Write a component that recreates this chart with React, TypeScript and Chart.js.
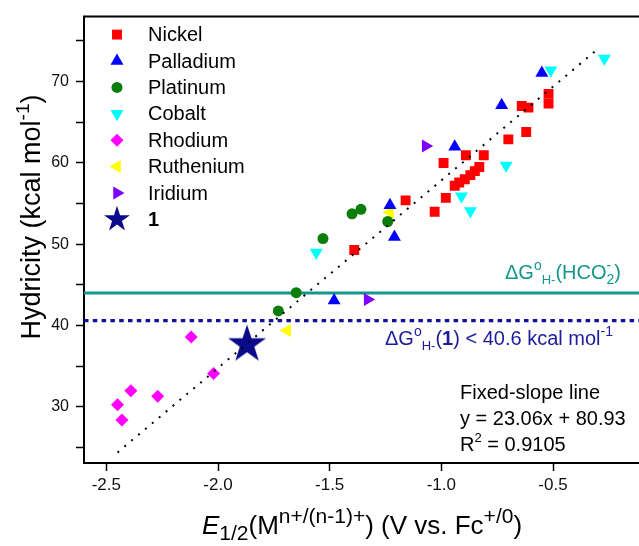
import React, { useEffect, useRef } from 'react';
import { Chart, registerables } from 'chart.js';

Chart.register(...registerables);

const FONT = '"Liberation Sans", Arial, Helvetica, sans-serif';

// ---------- data ----------
const seriesNames = ['Nickel', 'Palladium', 'Platinum', 'Cobalt', 'Rhodium', 'Ruthenium', 'Iridium', '1'];

const nickelX = [-0.52, -0.52, -0.64, -0.61, -0.62, -0.70, -0.89, -0.81, -0.99, -0.83, -0.85, -0.87, -0.895, -0.92, -0.94, -0.98, -1.03, -1.16, -1.39];
const nickelY = [68.5, 67.3, 67.0, 66.8, 63.8, 62.9, 60.95, 60.95, 60.0, 59.5, 59.0, 58.5, 58.0, 57.6, 57.2, 55.7, 54.0, 55.4, 49.3];

const palladiumX = [-0.55, -0.73, -0.94, -1.23, -1.21, -1.48];
const palladiumY = [71.05, 67.1, 62.0, 54.8, 50.9, 43.1];

const platinumX = [-1.40, -1.36, -1.53, -1.24, -1.65, -1.73];
const platinumY = [53.75, 54.3, 50.7, 52.8, 44.05, 41.8];

const cobaltX = [-0.27, -0.51, -0.71, -0.91, -0.87, -1.56];
const cobaltY = [72.85, 71.4, 59.7, 55.9, 54.1, 49.0];

const rhodiumX = [-2.12, -2.02, -2.39, -2.27, -2.45, -2.43];
const rhodiumY = [38.6, 34.1, 32.0, 31.3, 30.25, 28.4];

const rutheniumX = [-1.23, -1.69];
const rutheniumY = [53.95, 39.4];

const iridiumX = [-1.07, -1.33];
const iridiumY = [62.1, 43.2];

const complex1X = [-1.87];
const complex1Y = [37.8];

// fixed-slope fit line end points
const fitX = [-2.45, -0.30];
const fitY = [24.4, 74.0];

// reference hydricity levels
const formateLevel = 44.0;
const complexLevel = 40.6;

const xTickValues = [-2.5, -2.0, -1.5, -1.0, -0.5];
const yTickValues = [25, 30, 35, 40, 45, 50, 55, 60, 65, 70, 75];

const X_MIN = -2.6;
const X_MAX = -0.115;
const Y_MIN = 23.1;
const Y_MAX = 78.0;

// ---------- styles ----------
const TEAL = '#14968e';
const NAVY_LINE = '#10109c';
const NAVY_TEXT = '#1c1c9c';
const STAR_COLOR = '#0a0a8a';

type Mk = { color: string; style: string; r: number; rot: number };
const markers: Mk[] = [
  { color: '#ff0000', style: 'rect', r: 7, rot: 0 },
  { color: '#0000ff', style: 'triangle', r: 7.5, rot: 0 },
  { color: '#0a7d0a', style: 'circle', r: 5.5, rot: 0 },
  { color: '#00ffff', style: 'triangle', r: 7.5, rot: 180 },
  { color: '#ff00ff', style: 'rectRot', r: 6.5, rot: 0 },
  { color: '#ffff00', style: 'triangle', r: 7.5, rot: -90 },
  { color: '#8000ff', style: 'triangle', r: 7.5, rot: 90 },
  { color: STAR_COLOR, style: 'star', r: 20, rot: 0 },
];

function starPath(ctx: CanvasRenderingContext2D, cx: number, cy: number, R: number) {
  const rIn = R * 0.382;
  ctx.beginPath();
  for (let i = 0; i < 10; i++) {
    const rr = i % 2 === 0 ? R : rIn;
    const a = -Math.PI / 2 + (i * Math.PI) / 5;
    const px = cx + rr * Math.cos(a);
    const py = cy + rr * Math.sin(a);
    if (i === 0) ctx.moveTo(px, py);
    else ctx.lineTo(px, py);
  }
  ctx.closePath();
}

function makeStar(R: number, color: string): HTMLCanvasElement {
  const c = document.createElement('canvas');
  const s = Math.ceil(2 * R + 2);
  c.width = s;
  c.height = s;
  const g = c.getContext('2d')!;
  g.fillStyle = color;
  starPath(g, s / 2, s / 2 + R * 0.05, R);
  g.fill();
  return c;
}

function drawMarker(ctx: CanvasRenderingContext2D, m: Mk, x: number, y: number, scale = 1) {
  const r = m.r * scale;
  ctx.save();
  ctx.fillStyle = m.color;
  ctx.beginPath();
  if (m.style === 'rect') {
    const h = r * Math.SQRT1_2;
    ctx.rect(x - h, y - h, 2 * h, 2 * h);
  } else if (m.style === 'rectRot') {
    ctx.moveTo(x, y - r);
    ctx.lineTo(x + r, y);
    ctx.lineTo(x, y + r);
    ctx.lineTo(x - r, y);
    ctx.closePath();
  } else if (m.style === 'circle') {
    ctx.arc(x, y, r, 0, Math.PI * 2);
  } else if (m.style === 'triangle') {
    let a = (m.rot * Math.PI) / 180;
    for (let i = 0; i < 3; i++) {
      const px = x + Math.sin(a) * r;
      const py = y - Math.cos(a) * r;
      if (i === 0) ctx.moveTo(px, py);
      else ctx.lineTo(px, py);
      a += (2 * Math.PI) / 3;
    }
    ctx.closePath();
  } else if (m.style === 'star') {
    starPath(ctx, x, y, r);
  }
  ctx.fill();
  ctx.restore();
}

type Seg = { t: string; size: number; dy?: number; bold?: boolean; italic?: boolean; stack?: boolean };

function fontOf(s: Seg) {
  return `${s.italic ? 'italic ' : ''}${s.bold ? 'bold ' : ''}${s.size}px ${FONT}`;
}

function drawRich(ctx: CanvasRenderingContext2D, segs: Seg[], x: number, y: number, align: 'left' | 'center', color: string) {
  let cur = 0;
  let prevStart = 0;
  let prevW = 0;
  const items: { s: Seg; start: number }[] = [];
  for (const s of segs) {
    ctx.font = fontOf(s);
    const w = ctx.measureText(s.t).width;
    let start: number;
    if (s.stack) {
      start = prevStart;
      cur = Math.max(prevStart + prevW, start + w);
    } else {
      start = cur;
      cur += w;
    }
    items.push({ s, start });
    prevStart = start;
    prevW = w;
  }
  const x0 = align === 'center' ? x - cur / 2 : x;
  ctx.fillStyle = color;
  ctx.textAlign = 'left';
  ctx.textBaseline = 'alphabetic';
  for (const { s, start } of items) {
    ctx.font = fontOf(s);
    ctx.fillText(s.t, x0 + start, y + (s.dy || 0));
  }
}

const decor = {
  id: 'decor',
  afterDraw(chart: any) {
    const { ctx, chartArea: ca } = chart;
    ctx.save();
    // top frame line
    ctx.strokeStyle = '#000';
    ctx.lineWidth = 2;
    ctx.beginPath();
    ctx.moveTo(ca.left - 1, ca.top);
    ctx.lineTo(ca.right, ca.top);
    ctx.stroke();

    // legend
    const lx = ca.left + 33;
    const ly0 = ca.top + 18;
    const lstep = 26.4;
    seriesNames.forEach((name, i) => {
      const y = ly0 + i * lstep;
      const m = markers[i];
      drawMarker(ctx, m, lx, y, m.style === 'star' ? 0.68 : 1);
      ctx.fillStyle = '#000';
      ctx.font = `${name === '1' ? 'bold ' : ''}20px ${FONT}`;
      ctx.textAlign = 'left';
      ctx.textBaseline = 'middle';
      ctx.fillText(name, ca.left + 64, y + 1);
    });

    // annotations
    drawRich(
      ctx,
      [
        { t: '\u0394G', size: 20 },
        { t: 'o', size: 14, dy: -9 },
        { t: 'H-', size: 13, dy: 5 },
        { t: '(HCO', size: 20 },
        { t: '2', size: 14, dy: 5 },
        { t: '-', size: 14, dy: -9, stack: true },
        { t: ')', size: 20 },
      ],
      505,
      279,
      'left',
      TEAL
    );
    drawRich(
      ctx,
      [
        { t: '\u0394G', size: 20 },
        { t: 'o', size: 14, dy: -9 },
        { t: 'H-', size: 13, dy: 5 },
        { t: '(', size: 20 },
        { t: '1', size: 20, bold: true },
        { t: ') < 40.6 kcal mol', size: 20 },
        { t: '-1', size: 14, dy: -9 },
      ],
      385,
      345,
      'left',
      NAVY_TEXT
    );
    drawRich(ctx, [{ t: 'Fixed-slope line', size: 20 }], 460, 399, 'left', '#000');
    drawRich(ctx, [{ t: 'y = 23.06x + 80.93', size: 20 }], 460, 425, 'left', '#000');
    drawRich(
      ctx,
      [
        { t: 'R', size: 20 },
        { t: '2', size: 13, dy: -9 },
        { t: ' = 0.9105', size: 20 },
      ],
      460,
      451,
      'left',
      '#000'
    );

    // x axis title
    drawRich(
      ctx,
      [
        { t: 'E', size: 26, italic: true },
        { t: '1/2', size: 21, dy: 6 },
        { t: '(M', size: 26 },
        { t: 'n+/(n-1)+', size: 21, dy: -11 },
        { t: ') (V vs. Fc', size: 26 },
        { t: '+/0', size: 21, dy: -11 },
        { t: ')', size: 26 },
      ],
      362,
      534,
      'center',
      '#000'
    );

    // y axis title
    ctx.save();
    ctx.translate(40, 217);
    ctx.rotate(-Math.PI / 2);
    drawRich(
      ctx,
      [
        { t: 'Hydricity (kcal mol', size: 27 },
        { t: '-1', size: 19, dy: -11 },
        { t: ')', size: 27 },
      ],
      0,
      0,
      'center',
      '#000'
    );
    ctx.restore();

    ctx.restore();
  },
};

function pts(xs: number[], ys: number[]) {
  return xs.map((x, i) => ({ x, y: ys[i] }));
}

export default function App() {
  const ref = useRef<HTMLCanvasElement>(null);

  useEffect(() => {
    const canvas = ref.current!;
    const starImg = makeStar(20, STAR_COLOR);
    const seriesXs = [nickelX, palladiumX, platinumX, cobaltX, rhodiumX, rutheniumX, iridiumX, complex1X];
    const seriesYs = [nickelY, palladiumY, platinumY, cobaltY, rhodiumY, rutheniumY, iridiumY, complex1Y];

    const markerSets: any[] = seriesNames.map((name, i) => {
      const m = markers[i];
      return {
        label: name,
        data: pts(seriesXs[i], seriesYs[i]),
        backgroundColor: m.color,
        borderColor: m.color,
        borderWidth: 0,
        pointStyle: m.style === 'star' ? starImg : m.style,
        pointRadius: m.r,
        pointRotation: m.rot,
        showLine: false,
        order: 5,
      };
    });

    const datasets: any[] = [
      {
        label: 'fit',
        data: pts(fitX, fitY),
        showLine: true,
        borderColor: '#000',
        borderWidth: 2,
        borderDash: [2, 7],
        pointRadius: 0,
        fill: false,
        order: 0,
      },
      ...markerSets,
      {
        label: 'formate',
        data: pts([X_MIN, X_MAX], [formateLevel, formateLevel]),
        showLine: true,
        borderColor: TEAL,
        borderWidth: 3,
        pointRadius: 0,
        fill: false,
        order: 10,
      },
      {
        label: 'complex1',
        data: pts([X_MIN, X_MAX], [complexLevel, complexLevel]),
        showLine: true,
        borderColor: NAVY_LINE,
        borderWidth: 3.2,
        borderDash: [4.5, 4.3],
        pointRadius: 0,
        fill: false,
        order: 10,
      },
    ];

    const chart = new Chart(canvas, {
      type: 'scatter',
      data: { datasets },
      options: {
        animation: false,
        responsive: false,
        events: [],
        layout: { autoPadding: false, padding: { top: 14, left: 0, right: 0, bottom: 0 } },
        plugins: { legend: { display: false }, tooltip: { enabled: false } },
        scales: {
          x: {
            type: 'linear',
            min: X_MIN,
            max: X_MAX,
            afterBuildTicks: (s: any) => {
              s.ticks = xTickValues.map((v) => ({ value: v }));
            },
            afterFit: (s: any) => {
              s.height = 83;
            },
            ticks: {
              callback: (v: any) => Number(v).toFixed(1),
              font: { family: FONT, size: 17 },
              color: '#111',
              padding: 4,
              maxRotation: 0,
              autoSkip: false,
            },
            grid: { drawOnChartArea: false, drawTicks: true, tickLength: 8, color: '#000', tickWidth: 1.5 },
            border: { display: true, color: '#000', width: 2 },
          },
          y: {
            type: 'linear',
            min: Y_MIN,
            max: Y_MAX,
            afterBuildTicks: (s: any) => {
              s.ticks = yTickValues.map((v) => ({ value: v }));
            },
            afterFit: (s: any) => {
              s.width = 84;
            },
            ticks: {
              callback: (v: any) => (Number(v) % 10 === 0 ? String(v) : ''),
              font: { family: FONT, size: 16 },
              color: '#111',
              padding: 7,
              autoSkip: false,
            },
            grid: { drawOnChartArea: false, drawTicks: true, tickLength: 8, color: '#000', tickWidth: 1.5 },
            border: { display: true, color: '#000', width: 2 },
          },
        },
      },
      plugins: [decor],
    });
    return () => chart.destroy();
  }, []);

  return (
    <div style={{ position: 'absolute', left: 0, top: 0, width: 639, height: 546, background: '#fff' }}>
      <canvas ref={ref} width={639} height={546} style={{ width: 639, height: 546, display: 'block' }} />
    </div>
  );
}
